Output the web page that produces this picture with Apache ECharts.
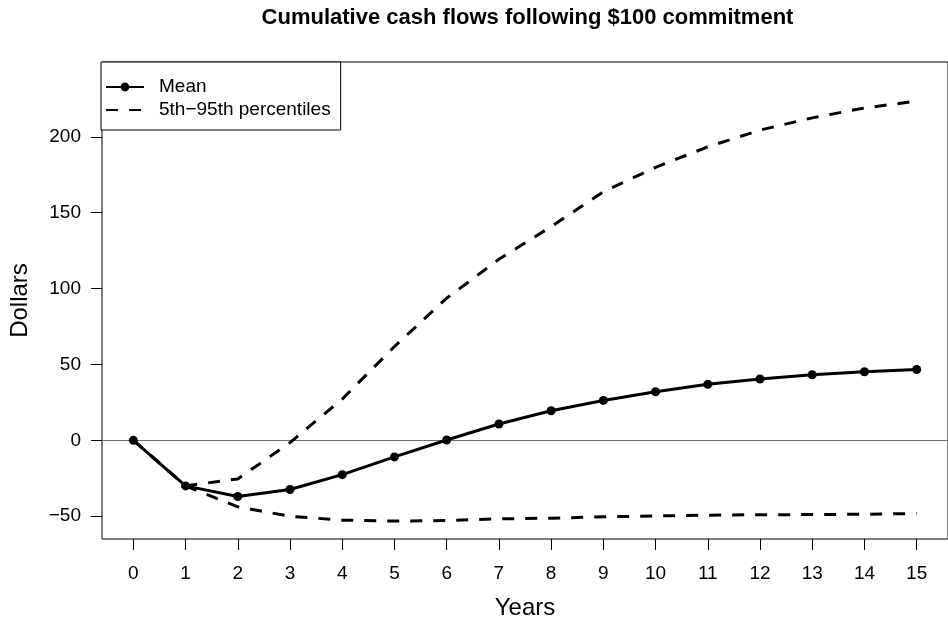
<!DOCTYPE html>
<html>
<head>
<meta charset="utf-8">
<script src="https://cdn.jsdelivr.net/npm/echarts@6/dist/echarts.min.js"></script>
<style>
  html, body { margin: 0; padding: 0; background: #fff; }
  #chart { width: 948px; height: 632px; }
</style>
</head>
<body>
<div id="chart"></div>
<script>
const years = [0, 1, 2, 3, 4, 5, 6, 7, 8, 9, 10, 11, 12, 13, 14, 15]
const meanCF = [0, -30, -37, -32.4, -22.6, -10.9, 0.2, 10.8, 19.5, 26.3, 32.0, 36.9, 40.4, 43.2, 45.2, 46.7]
const p95 = [0, -30, -25.4, -1.5, 27.2, 61.8, 93.7, 119.3, 140.8, 163.8, 179.9, 193.4, 204.4, 212.5, 219.0, 223.5]
const p05 = [0, -30, -43.8, -50.0, -52.6, -53.2, -52.8, -51.7, -51.3, -50.4, -49.8, -49.3, -49.0, -48.9, -48.7, -48.2]
const yTicks = [-50, 0, 50, 100, 150, 200]
const xTicks = years

const FONT = "'Liberation Sans', Arial, Helvetica, sans-serif"
const pair = (xs, ys) => xs.map((x, i) => [x, ys[i]])
const minus = v => String(v).replace('-', '\u2212')
const PCT = '5th\u221295th percentiles'

const chart = echarts.init(document.getElementById('chart'))

const option = {
    animation: false,
    backgroundColor: '#fff',
    title: {
        text: 'Cumulative cash flows following $100 commitment',
        left: 527.5,
        top: 7,
        padding: 0,
        textAlign: 'center',
        textStyle: {fontFamily: FONT, fontSize: 22, fontWeight: 'bold', color: '#000'}
    },
    legend: {
        left: 101,
        top: 62,
        orient: 'vertical',
        padding: [15, 10, 10, 4],
        itemGap: 3,
        itemWidth: 38,
        itemHeight: 11,
        borderColor: '#000',
        borderWidth: 1,
        backgroundColor: '#fff',
        textStyle: {fontFamily: FONT, fontSize: 19, color: '#000', lineHeight: 20, padding: [0, 0, 0, 10]},
        data: ['Mean', {name: PCT, itemStyle: {opacity: 0}}]
    },
    grid: {left: 101, right: -6, top: 62, bottom: 93, show: true, borderColor: '#000', borderWidth: 1},
    xAxis: {
        type: 'value',
        min: -0.6,
        max: 15.6,
        name: 'Years',
        nameLocation: 'middle',
        nameGap: 57,
        nameTextStyle: {fontFamily: FONT, fontSize: 24, color: '#000'},
        axisLine: {show: false, onZero: false},
        splitLine: {show: false},
        axisTick: {show: true, customValues: xTicks, length: 11, lineStyle: {color: '#000'}},
        axisLabel: {customValues: xTicks, margin: 25, fontFamily: FONT, fontSize: 19, color: '#000'}
    },
    yAxis: {
        type: 'value',
        min: -65,
        max: 249.3,
        name: 'Dollars',
        nameLocation: 'middle',
        nameGap: 70,
        nameTextStyle: {fontFamily: FONT, fontSize: 24, color: '#000'},
        axisLine: {show: false, onZero: false},
        splitLine: {show: false},
        axisTick: {show: true, customValues: yTicks, length: 11, lineStyle: {color: '#000'}},
        axisLabel: {customValues: yTicks, margin: 21, fontFamily: FONT, fontSize: 19, color: '#000', formatter: minus}
    },
    series: [
        {
            name: PCT,
            type: 'line',
            data: pair(years, p95),
            symbol: 'none',
            lineStyle: {color: '#000', width: 3, type: [12, 11]},
            itemStyle: {color: '#000'},
            z: 3
        },
        {
            name: PCT,
            type: 'line',
            data: pair(years, p05),
            symbol: 'none',
            lineStyle: {color: '#000', width: 3, type: [12, 11]},
            itemStyle: {color: '#000'},
            z: 3
        },
        {
            name: 'Mean',
            type: 'line',
            data: pair(years, meanCF),
            symbol: 'circle',
            symbolSize: 9,
            lineStyle: {color: '#000', width: 3},
            itemStyle: {color: '#000'},
            z: 4,
            markLine: {
                silent: true,
                symbol: 'none',
                label: {show: false},
                lineStyle: {color: '#6e6e6e', width: 1, type: 'solid'},
                data: [{yAxis: 0}],
                z: 1
            }
        }
    ]
}

chart.setOption(option)
</script>
</body>
</html>
